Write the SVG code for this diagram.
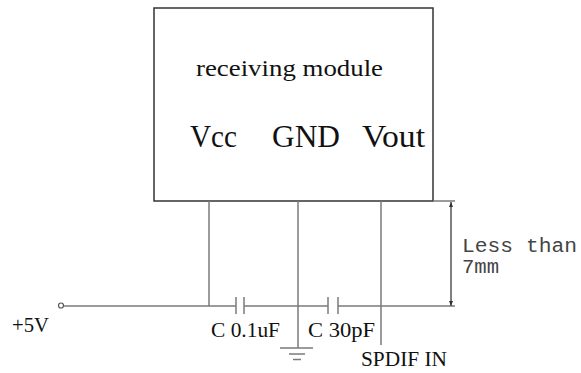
<svg xmlns="http://www.w3.org/2000/svg" width="581" height="373" viewBox="0 0 581 373">
<style>
.w{stroke:#7a7a7a;stroke-width:1.5;fill:none}
.b{stroke:#333;stroke-width:1.5;fill:none}
.t{font-family:"Liberation Serif","Times New Roman",serif;fill:#111}
.m{font-family:"Liberation Mono","Courier New",monospace;fill:#444}
</style>
<defs>
<marker id="ah" viewBox="0 0 10 10" refX="10" refY="5" markerWidth="5" markerHeight="6" orient="auto" markerUnits="userSpaceOnUse">
<path d="M0,1 L10,5 L0,9 Z" fill="#333"/>
</marker>
</defs>
<rect width="581" height="373" fill="#fff"/>
<g id="module">
<rect class="b" x="154" y="8" width="279" height="193"/>
<text class="t" x="196" y="76" font-size="23" textLength="187" lengthAdjust="spacingAndGlyphs">receiving module</text>
<text class="t" x="190" y="147" font-size="31" textLength="47" lengthAdjust="spacingAndGlyphs">Vcc</text>
<text class="t" x="272" y="147" font-size="31" textLength="68" lengthAdjust="spacingAndGlyphs">GND</text>
<text class="t" x="362" y="147" font-size="31" textLength="63" lengthAdjust="spacingAndGlyphs">Vout</text>
</g>
<g id="connectors">
<line class="w" x1="433" y1="201" x2="455" y2="201"/>
<line class="w" x1="209" y1="201" x2="209" y2="306"/>
<line class="w" x1="298" y1="201" x2="298" y2="348"/>
<line class="w" x1="381" y1="201" x2="381" y2="345"/>
<line class="w" x1="63.5" y1="306" x2="236" y2="306"/>
<line class="w" x1="244" y1="306" x2="328" y2="306"/>
<line class="w" x1="338" y1="306" x2="455" y2="306"/>
</g>
<g id="input">
<circle cx="61" cy="305.5" r="2.5" fill="#fff" stroke="#555" stroke-width="1.2"/>
<text class="t" x="12" y="332" font-size="21" textLength="37" lengthAdjust="spacingAndGlyphs">+5V</text>
</g>
<g id="c1">
<line class="w" x1="236" y1="297" x2="236" y2="314"/>
<line class="w" x1="244" y1="297" x2="244" y2="314"/>
<text class="t" x="211" y="337" font-size="21" textLength="69" lengthAdjust="spacingAndGlyphs">C 0.1uF</text>
</g>
<g id="c2">
<line class="w" x1="328" y1="297" x2="328" y2="314"/>
<line class="w" x1="338" y1="297" x2="338" y2="314"/>
<text class="t" x="308" y="337" font-size="21" textLength="67" lengthAdjust="spacingAndGlyphs">C 30pF</text>
</g>
<g id="ground">
<line class="w" x1="280" y1="348" x2="313" y2="348"/>
<line class="w" x1="289" y1="354" x2="305" y2="354"/>
<line class="w" x1="293" y1="359.5" x2="301" y2="359.5"/>
</g>
<g id="spdif">
<text class="t" x="361" y="366" font-size="21" textLength="86" lengthAdjust="spacingAndGlyphs">SPDIF IN</text>
</g>
<g id="dimension">
<line x1="451" y1="254" x2="451" y2="202" stroke="#555" stroke-width="1.5" marker-end="url(#ah)"/>
<line x1="451" y1="254" x2="451" y2="306" stroke="#555" stroke-width="1.5" marker-end="url(#ah)"/>
<text class="m" x="462" y="252" font-size="20" textLength="115" lengthAdjust="spacingAndGlyphs">Less than</text>
<text class="m" x="462" y="273" font-size="20" textLength="37" lengthAdjust="spacingAndGlyphs">7mm</text>
</g>
</svg>
